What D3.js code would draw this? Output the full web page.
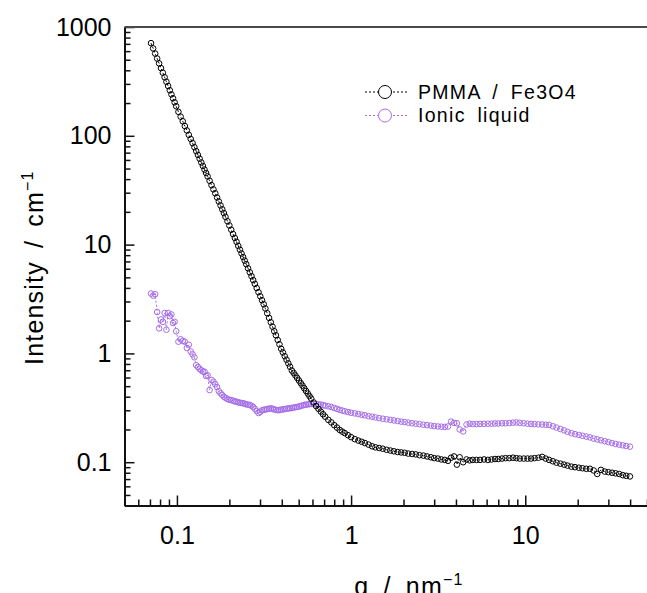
<!DOCTYPE html>
<html>
<head>
<meta charset="utf-8">
<script src="https://cdn.jsdelivr.net/npm/d3@7"></script>
<style>
  body { margin: 0; background: #fff; }
  svg text { font-family: "Liberation Sans", Arial, sans-serif; fill: #000; }
</style>
</head>
<body>
<svg id="chart" width="647" height="593"></svg>
<script>
// scattering vector q (nm^-1), shared by both curves
const q = [
  0.071, 0.073, 0.075, 0.077, 0.079, 0.081, 0.083, 0.085, 0.087, 0.089, 0.091, 0.093, 0.095, 0.097, 0.099,
  0.102, 0.105, 0.108, 0.111, 0.114, 0.117, 0.120, 0.123, 0.126, 0.129, 0.132, 0.135, 0.138, 0.141, 0.144, 0.147, 0.150,
  0.154, 0.158, 0.162, 0.166, 0.170, 0.174, 0.178, 0.182, 0.186, 0.190, 0.195, 0.200,
  0.205, 0.210, 0.215, 0.220, 0.225, 0.230, 0.235, 0.240, 0.245, 0.250, 0.256, 0.262, 0.268, 0.274, 0.280, 0.287, 0.294, 0.301,
  0.308, 0.315, 0.322, 0.330, 0.338, 0.346, 0.354, 0.362, 0.370, 0.379, 0.388, 0.397, 0.406, 0.416, 0.426, 0.436, 0.446,
  0.457, 0.468, 0.479, 0.490, 0.502, 0.514, 0.526, 0.538, 0.551, 0.564, 0.577, 0.590,
  0.61, 0.63, 0.65, 0.67, 0.69, 0.71, 0.74, 0.77, 0.80, 0.83, 0.86, 0.89, 0.92, 0.96, 1.0,
  1.05, 1.1, 1.15, 1.2, 1.26, 1.32, 1.38, 1.45, 1.52, 1.6, 1.68, 1.76, 1.85, 1.94, 2.03,
  2.13, 2.24, 2.35, 2.47, 2.6, 2.73, 2.87, 3.0, 3.15, 3.3, 3.45, 3.6, 3.75, 3.9, 4.05, 4.2, 4.4, 4.6, 4.8, 5.0,
  5.25, 5.5, 5.8, 6.1, 6.4, 6.7, 7.0, 7.35, 7.7, 8.1, 8.5, 8.9, 9.3, 9.8, 10.3, 10.8, 11.3, 11.9, 12.5, 13.1,
  13.7, 14.4, 15.1, 15.9, 16.7, 17.5, 18.4, 19.3, 20.3, 21.3, 22.4, 23.5, 24.7, 25.9, 27.2, 28.6, 30, 31.5, 33,
  34.6, 36.3, 38, 39.9
];

const pmmaFe3O4 = [
  711, 636, 570, 513, 463, 419, 380, 345, 314, 287, 262, 240, 221, 203, 187,
  166, 150, 136, 123, 112, 102, 93.5, 85.7, 78.6, 72.3, 66.7, 61.6, 56.9, 52.8, 48.9, 45.5, 42.4,
  38.6, 35.2, 32.2, 29.6, 27.1, 24.9, 22.9, 21.1, 19.5, 18.0, 16.4, 15.0,
  13.7, 12.5, 11.5, 10.6, 9.72, 8.97, 8.29, 7.68, 7.12, 6.61, 6.06, 5.57, 5.13, 4.72, 4.36, 3.99, 3.65, 3.35,
  3.08, 2.83, 2.59, 2.34, 2.12, 1.93, 1.76, 1.60, 1.47, 1.33, 1.21, 1.10, 1.02, 0.942, 0.873, 0.810, 0.754,
  0.696, 0.661, 0.627, 0.595, 0.563, 0.533, 0.505, 0.479, 0.452, 0.428, 0.405, 0.384,
  0.354, 0.328, 0.309, 0.292, 0.276, 0.262, 0.245, 0.232, 0.219, 0.208, 0.198, 0.191, 0.185, 0.177, 0.170,
  0.163, 0.158, 0.154, 0.150, 0.145, 0.140, 0.137, 0.135, 0.133, 0.130, 0.128, 0.126, 0.124, 0.123, 0.122,
  0.120, 0.119, 0.118, 0.116, 0.115, 0.113, 0.111, 0.109, 0.108, 0.106, 0.105, 0.103, 0.110, 0.113, 0.095, 0.111, 0.100, 0.106, 0.104, 0.105,
  0.105, 0.105, 0.106, 0.105, 0.106, 0.107, 0.107, 0.108, 0.109, 0.109, 0.110, 0.109, 0.108, 0.108, 0.108, 0.108, 0.109, 0.110, 0.112, 0.108,
  0.105, 0.102, 0.099, 0.097, 0.095, 0.093, 0.091, 0.090, 0.089, 0.088, 0.087, 0.087, 0.084, 0.078, 0.085, 0.082, 0.081, 0.080, 0.079,
  0.078, 0.076, 0.075, 0.074
];

const ionicLiquid = [
  3.55, 3.40, 3.50, 2.40, 1.70, 2.05, 1.95, 2.35, 1.65, 2.35, 2.20, 2.28, 1.90, 1.95, 1.60,
  1.28, 1.35, 1.30, 1.28, 1.12, 1.20, 1.04, 0.98, 0.92, 0.78, 0.75, 0.72, 0.70, 0.68, 0.68, 0.62, 0.63,
  0.46, 0.57, 0.55, 0.52, 0.49, 0.45, 0.43, 0.415, 0.40, 0.39, 0.38, 0.375,
  0.372, 0.368, 0.362, 0.36, 0.355, 0.352, 0.35, 0.348, 0.345, 0.34, 0.338, 0.336, 0.33, 0.322, 0.31, 0.295, 0.283, 0.29,
  0.30, 0.303, 0.305, 0.308, 0.31, 0.313, 0.31, 0.305, 0.303, 0.30, 0.302, 0.304, 0.306, 0.308, 0.31, 0.312, 0.313,
  0.315, 0.318, 0.32, 0.322, 0.325, 0.328, 0.332, 0.336, 0.338, 0.34, 0.342, 0.343,
  0.343, 0.342, 0.34, 0.338, 0.335, 0.331, 0.327, 0.322, 0.315, 0.309, 0.303, 0.298, 0.294, 0.289, 0.285,
  0.281, 0.277, 0.273, 0.270, 0.265, 0.262, 0.258, 0.254, 0.251, 0.248, 0.245, 0.242, 0.239, 0.236, 0.234,
  0.231, 0.228, 0.226, 0.224, 0.221, 0.219, 0.217, 0.215, 0.213, 0.212, 0.211, 0.213, 0.236, 0.230, 0.228, 0.200, 0.192, 0.222, 0.226, 0.224,
  0.224, 0.225, 0.225, 0.226, 0.226, 0.227, 0.227, 0.228, 0.228, 0.229, 0.231, 0.232, 0.230, 0.228, 0.226, 0.225, 0.224, 0.223, 0.222, 0.221,
  0.220, 0.214, 0.208, 0.202, 0.196, 0.190, 0.185, 0.181, 0.178, 0.175, 0.172, 0.169, 0.165, 0.162, 0.159, 0.156, 0.153, 0.150, 0.147,
  0.145, 0.143, 0.141, 0.139
];

const seriesNames = ["PMMA / Fe3O4", "Ionic liquid"];
const seriesColors = ["#000000", "#a56de8"];
const xTickValues = [0.1, 1, 10];
const xTickLabels = ["0.1", "1", "10"];
const yTickValues = [0.1, 1, 10, 100, 1000];
const yTickLabels = ["0.1", "1", "10", "100", "1000"];

var svg = d3.select("#chart");
var plotLeft = 124.5, plotRight = 647, plotTop = 27, plotBottom = 505.5;

var x = d3.scaleLog().domain([0.05, 50]).range([plotLeft, plotRight]);
var y = d3.scaleLog().domain([0.04, 1000]).range([plotBottom, plotTop]);

var isMajor = (v) => Math.abs(Math.log10(v) - Math.round(Math.log10(v))) < 1e-6;

// minor ticks
svg.append("g")
  .attr("transform", "translate(0," + plotBottom + ")")
  .call(d3.axisBottom(x).tickValues(x.ticks().filter((v) => !isMajor(v))).tickSize(-6).tickFormat(""))
  .call((g) => g.select(".domain").remove());
svg.append("g")
  .attr("transform", "translate(" + plotLeft + ",0)")
  .call(d3.axisLeft(y).tickValues(y.ticks().filter((v) => !isMajor(v))).tickSize(-6).tickFormat(""))
  .call((g) => g.select(".domain").remove());

// major ticks + labels
svg.append("g")
  .attr("transform", "translate(0," + plotBottom + ")")
  .call(d3.axisBottom(x).tickValues(xTickValues).tickSizeInner(-10).tickSizeOuter(0)
    .tickPadding(21).tickFormat((d, i) => xTickLabels[i]))
  .call((g) => g.selectAll("text").style("font-size", "25px"));
svg.append("g")
  .attr("transform", "translate(" + plotLeft + ",0)")
  .call(d3.axisLeft(y).tickValues(yTickValues).tickSizeInner(-10).tickSizeOuter(0)
    .tickPadding(13).tickFormat((d, i) => yTickLabels[i]))
  .call((g) => g.selectAll("text").style("font-size", "25px"));

svg.selectAll(".tick line").style("stroke", "#111").style("stroke-width", "1.5px");
svg.selectAll(".domain").style("stroke", "#111").style("stroke-width", "2px");

// top frame line
svg.append("line")
  .attr("x1", plotLeft).attr("x2", plotRight)
  .attr("y1", plotTop).attr("y2", plotTop)
  .style("stroke", "#4a4a4a")
  .style("stroke-width", "2px");

// series
var seriesData = [pmmaFe3O4, ionicLiquid];
var line = d3.line().x((d) => x(d[0])).y((d) => y(d[1]));

[1, 0].forEach(function (s) {
  var pts = q.map((v, i) => [v, seriesData[s][i]]);
  var g = svg.append("g");
  g.append("path")
    .datum(pts)
    .attr("d", line)
    .style("fill", "none")
    .style("stroke", seriesColors[s])
    .style("stroke-width", "1px")
    .style("stroke-dasharray", "2,2");
  g.selectAll("circle")
    .data(pts)
    .enter()
    .append("circle")
    .attr("cx", (d) => x(d[0]))
    .attr("cy", (d) => y(d[1]))
    .attr("r", 2.8)
    .style("fill", "none")
    .style("stroke", seriesColors[s])
    .style("stroke-width", "1px");
});

// legend
var legend = svg.append("g");
seriesNames.forEach(function (name, i) {
  var ly = 92 + i * 23.5;
  legend.append("line")
    .attr("x1", 365).attr("x2", 407)
    .attr("y1", ly).attr("y2", ly)
    .style("stroke", seriesColors[i])
    .style("stroke-width", "1px")
    .style("stroke-dasharray", "2,2");
  legend.append("circle")
    .attr("cx", 385).attr("cy", ly).attr("r", 6.5)
    .style("fill", "#fff")
    .style("stroke", seriesColors[i])
    .style("stroke-width", "1px");
  legend.append("text")
    .attr("x", 418).attr("y", ly + 6.5)
    .style("font-size", "19.5px")
    .style("letter-spacing", "1.3px")
    .style("word-spacing", "5px")
    .text(name);
});

// axis titles
var yTitle = svg.append("text")
  .attr("transform", "translate(43,365) rotate(-90)")
  .style("font-size", "25px")
  .style("letter-spacing", "1.2px")
  .style("word-spacing", "5px");
yTitle.append("tspan").text("Intensity / cm");
yTitle.append("tspan").attr("dy", -10).style("font-size", "16px").text("\u22121");

var xTitle = svg.append("text")
  .attr("x", 409).attr("y", 595)
  .attr("text-anchor", "middle")
  .style("font-size", "25px")
  .style("letter-spacing", "1.2px")
  .style("word-spacing", "6px");
xTitle.append("tspan").text("q / nm");
xTitle.append("tspan").attr("dy", -10).style("font-size", "16px").text("\u22121");
</script>
</body>
</html>
